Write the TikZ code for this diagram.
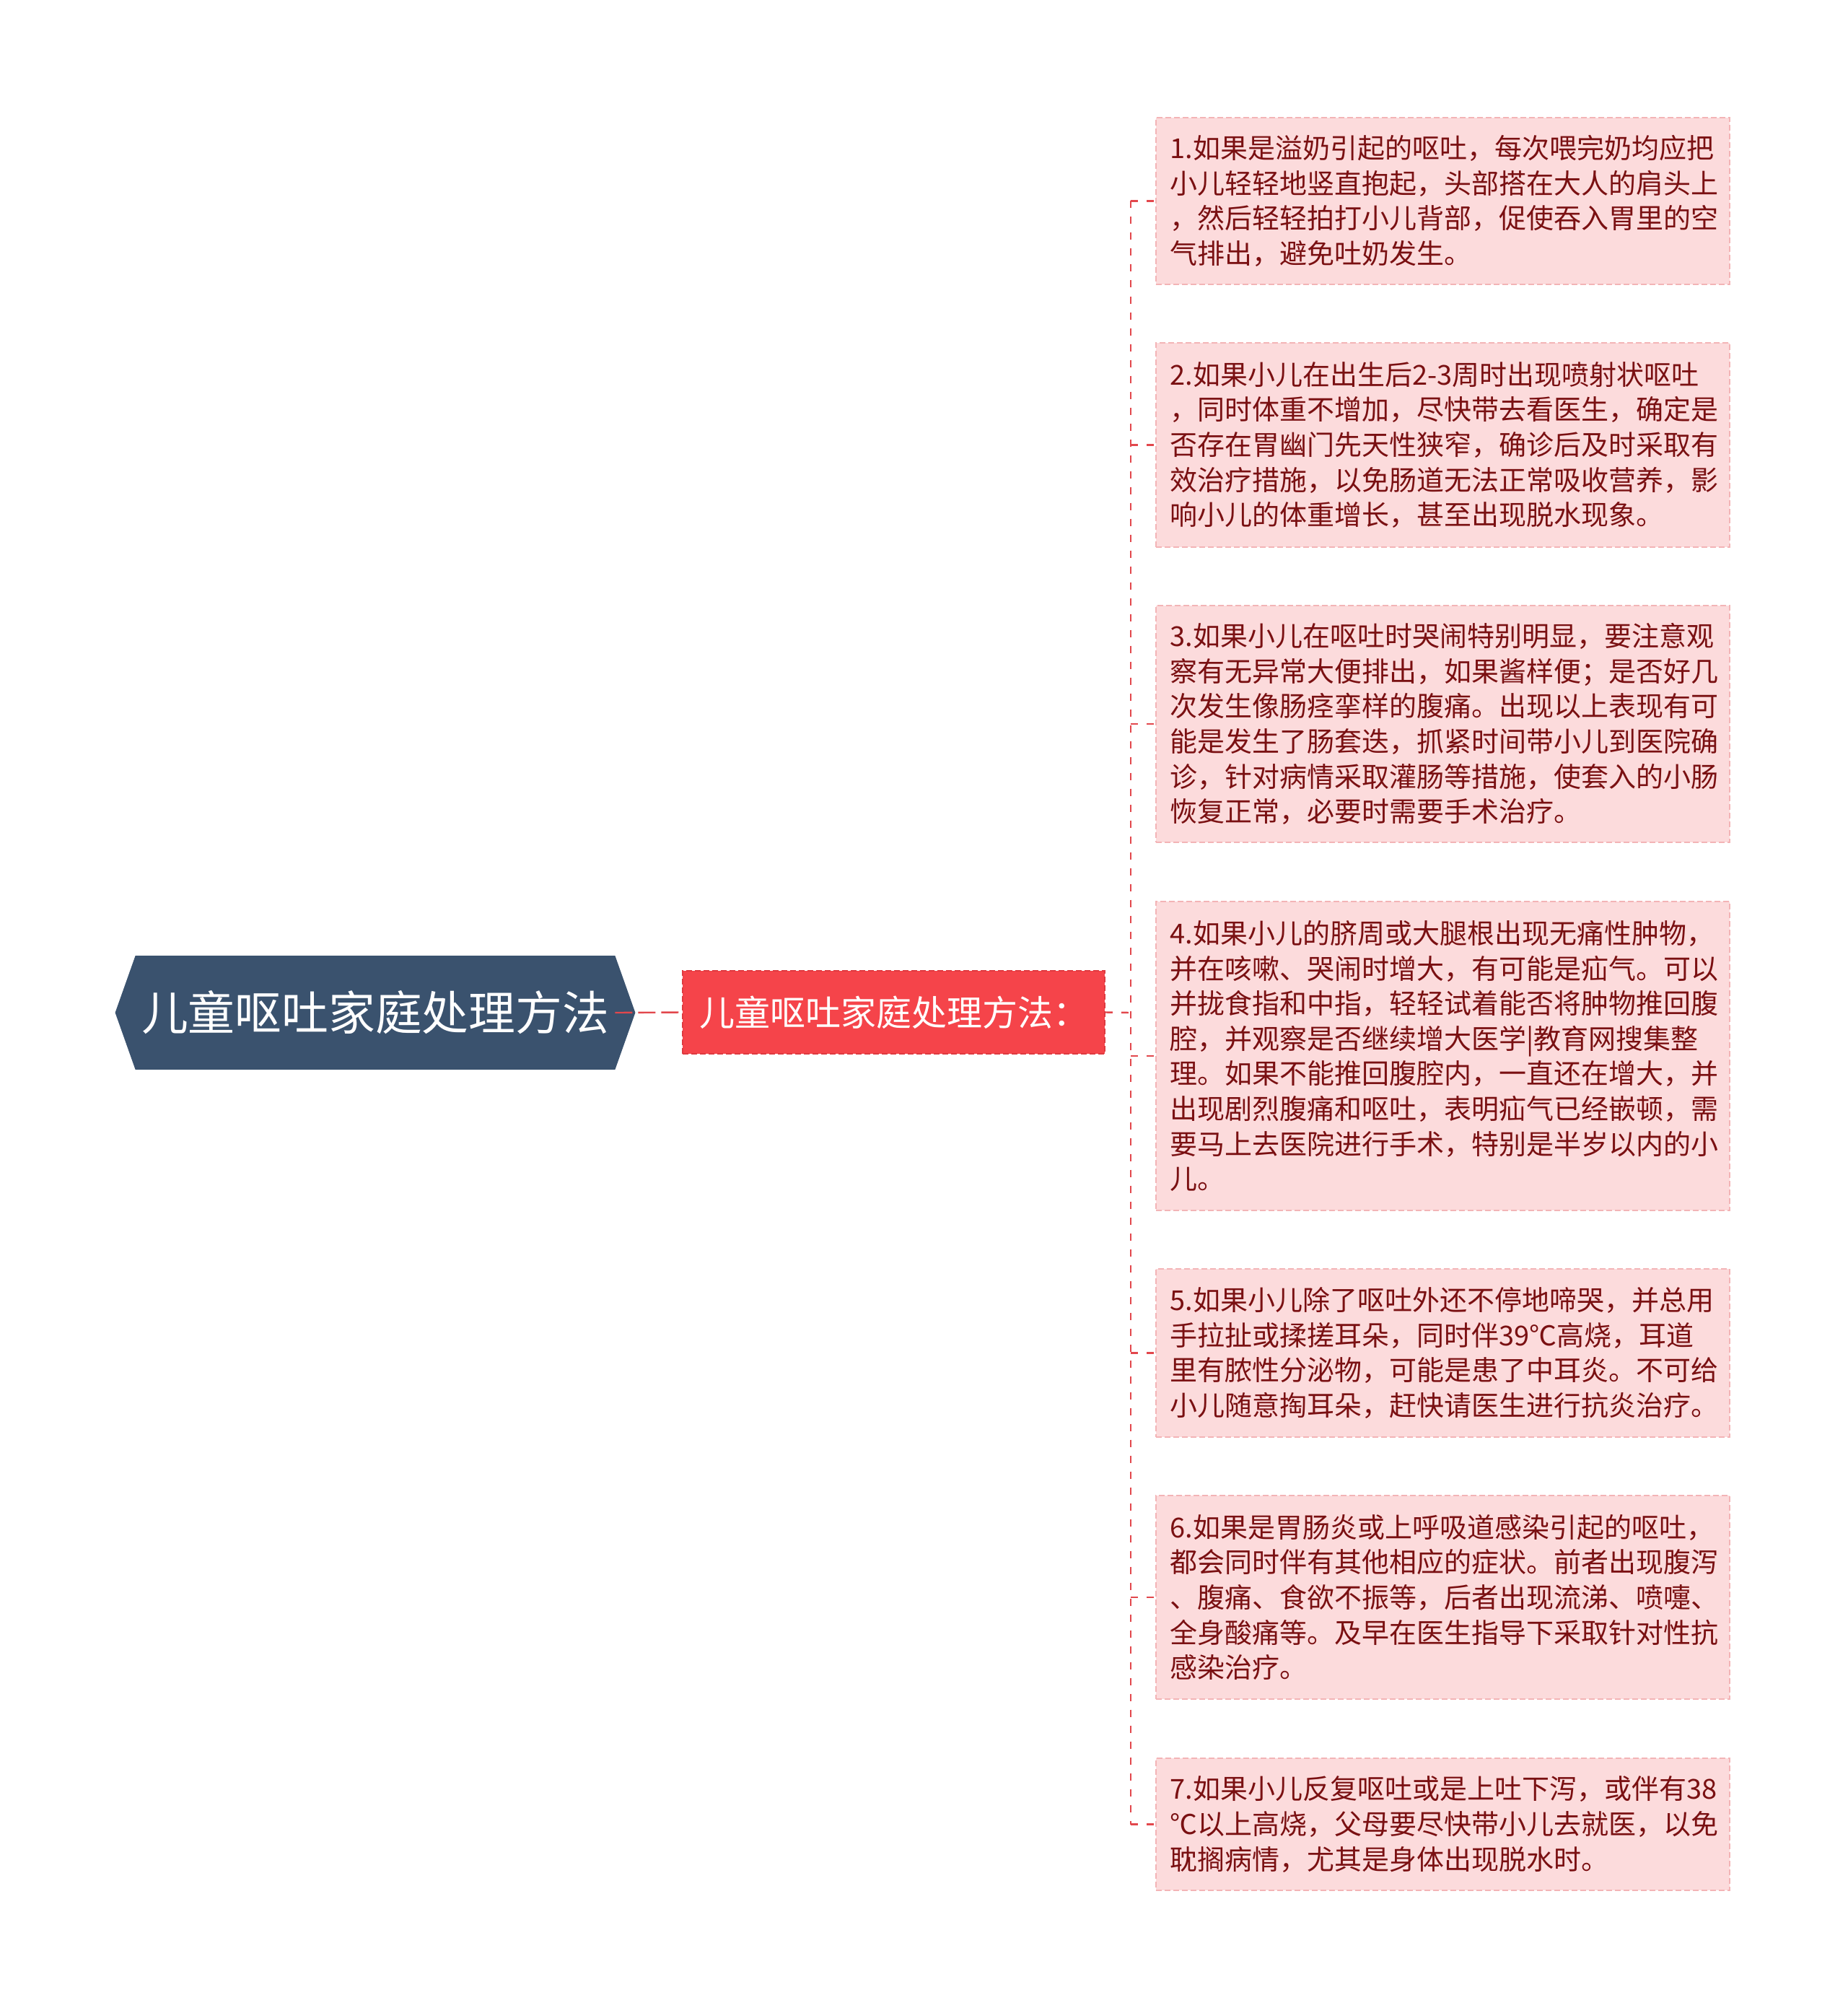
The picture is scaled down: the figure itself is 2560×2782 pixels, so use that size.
\documentclass[tikz,border=0pt]{standalone}
\usepackage{fontspec}
\setmainfont{Noto Sans CJK SC}
\usetikzlibrary{backgrounds}

\definecolor{rootblue}{HTML}{3A526E}
\definecolor{headred}{HTML}{F5444A}
\definecolor{headline}{HTML}{DE3A40}
\definecolor{leafpink}{HTML}{FCDBDC}
\definecolor{leafline}{HTML}{F3B4B6}
\definecolor{leaftext}{HTML}{7A1012}
\definecolor{linkred}{HTML}{E2474C}

\begin{document}
\begin{tikzpicture}[x=0.5pt,y=-0.5pt]

        \useasboundingbox (0,0) rectangle (2560,2782);

        % root and first level
        \node[minimum width=332pt, minimum height=78.5pt, inner sep=0pt, text=white,
              font=\fontsize{32.4pt}{36pt}\selectfont] (r) at (520,1403) {儿童呕吐家庭处理方法};
        \begin{scope}[on background layer]
          \fill[rootblue] (r.north west) -- (r.north east) -- ([xshift=14pt]r.east)
            -- (r.south east) -- (r.south west) -- ([xshift=-14pt]r.west) -- cycle;
        \end{scope}

        \node[draw=headline, dashed, dash pattern=on 4pt off 2pt, line width=0.8pt, fill=headred,
              text=white, minimum width=292.5pt, minimum height=57.5pt, inner sep=0pt,
              font=\fontsize{24.5pt}{28pt}\selectfont] (h) at (1238.5,1402.5) {儿童呕吐家庭处理方法：};

        \coordinate (hx) at (1567,1403);

        \begin{scope}[every node/.style={draw=leafline, dashed, dash pattern=on 4pt off 2pt,
              line width=0.8pt, fill=leafpink, text=leaftext, text width=378pt, inner xsep=9.75pt,
              align=left, font=\fontsize{19pt}{24.3pt}\selectfont}]
          \node[minimum height=115.5pt] (1) at (1999.5,278.5) {1.如果是溢奶引起的呕吐，每次喂完奶均应把\\小儿轻轻地竖直抱起，头部搭在大人的肩头上\\，然后轻轻拍打小儿背部，促使吞入胃里的空\\气排出，避免吐奶发生。};
          \node[minimum height=141.5pt] (2) at (1999.5,616.5) {2.如果小儿在出生后2-3周时出现喷射状呕吐\\，同时体重不增加，尽快带去看医生，确定是\\否存在胃幽门先天性狭窄，确诊后及时采取有\\效治疗措施，以免肠道无法正常吸收营养，影\\响小儿的体重增长，甚至出现脱水现象。};
          \node[minimum height=164pt] (3) at (1999.5,1003) {3.如果小儿在呕吐时哭闹特别明显，要注意观\\察有无异常大便排出，如果酱样便；是否好几\\次发生像肠痉挛样的腹痛。出现以上表现有可\\能是发生了肠套迭，抓紧时间带小儿到医院确\\诊，针对病情采取灌肠等措施，使套入的小肠\\恢复正常，必要时需要手术治疗。};
          \node[minimum height=214pt] (4) at (1999.5,1463) {4.如果小儿的脐周或大腿根出现无痛性肿物，\\并在咳嗽、哭闹时增大，有可能是疝气。可以\\并拢食指和中指，轻轻试着能否将肿物推回腹\\腔，并观察是否继续增大医学|教育网搜集整\\理。如果不能推回腹腔内，一直还在增大，并\\出现剧烈腹痛和呕吐，表明疝气已经嵌顿，需\\要马上去医院进行手术，特别是半岁以内的小\\儿。};
          \node[minimum height=116.5pt] (5) at (1999.5,1874.5) {5.如果小儿除了呕吐外还不停地啼哭，并总用\\手拉扯或揉搓耳朵，同时伴39℃高烧，耳道\\里有脓性分泌物，可能是患了中耳炎。不可给\\小儿随意掏耳朵，赶快请医生进行抗炎治疗。};
          \node[minimum height=141pt] (6) at (1999.5,2213) {6.如果是胃肠炎或上呼吸道感染引起的呕吐，\\都会同时伴有其他相应的症状。前者出现腹泻\\、腹痛、食欲不振等，后者出现流涕、喷嚏、\\全身酸痛等。及早在医生指导下采取针对性抗\\感染治疗。};
          \node[minimum height=91.5pt] (7) at (1999.5,2527.5) {7.如果小儿反复呕吐或是上吐下泻，或伴有38\\℃以上高烧，父母要尽快带小儿去就医，以免\\耽搁病情，尤其是身体出现脱水时。};
        \end{scope}

        \begin{scope}[linkred, line width=1.2pt, dashed, dash pattern=on 5pt off 6pt]
          \draw[dash pattern=on 12pt off 4pt] (r.east) -- (h.west);
          \draw (h.east) -- (hx);
          \draw (hx |- 1.west) -- (hx |- 7.west);
          \draw (hx |- 1.west) -- (1.west);
          \draw (hx |- 2.west) -- (2.west);
          \draw (hx |- 3.west) -- (3.west);
          \draw (hx |- 4.west) -- (4.west);
          \draw (hx |- 5.west) -- (5.west);
          \draw (hx |- 6.west) -- (6.west);
          \draw (hx |- 7.west) -- (7.west);
        \end{scope}

      \end{tikzpicture}
\end{document}
